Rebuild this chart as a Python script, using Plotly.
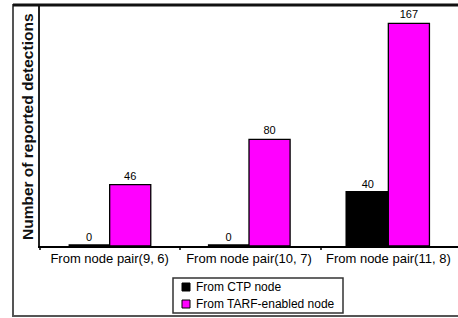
import plotly.graph_objects as go

categories = ["From node pair(9, 6)", "From node pair(10, 7)", "From node pair(11, 8)"]
ctp_values = [0, 0, 40]
tarf_values = [46, 80, 167]
series_names = ["From CTP node", "From TARF-enabled node"]
series_colors = ["black", "#ff00ff"]
y_title = "Number of reported detections"

fig = go.Figure()
fig.add_trace(go.Bar(
    x=categories, y=ctp_values, name=series_names[0],
    marker=dict(color=series_colors[0], line=dict(color="black", width=3.5)),
    text=[str(v) for v in ctp_values], textposition="outside",
    textfont=dict(family="Arial", size=11, color="black"), cliponaxis=False,
    showlegend=False,
))
fig.add_trace(go.Bar(
    x=categories, y=tarf_values, name=series_names[1],
    marker=dict(color=series_colors[1], line=dict(color="black", width=1.3)),
    text=[str(v) for v in tarf_values], textposition="outside",
    textfont=dict(family="Arial", size=11, color="black"), cliponaxis=False,
    showlegend=False,
))

W, H = 458, 318
L, R, T, B = 40, 0, 6, 72
pw = W - L - R
ph = H - T - B

def px(x):
    return (x - L) / pw

def py(y):
    return (H - B - y) / ph

shapes = [
    # outer frame
    dict(type="rect", xref="paper", yref="paper",
         x0=px(13), x1=px(470), y0=py(316), y1=py(5),
         line=dict(color="#555", width=2), layer="above"),
    # thick top line
    dict(type="line", xref="paper", yref="paper",
         x0=px(13), x1=px(470), y0=py(5), y1=py(5),
         line=dict(color="#111", width=3), layer="above"),
]
for xb in [40, 180, 321]:
    shapes.append(dict(type="line", xref="paper", yref="paper",
                       x0=px(xb), x1=px(xb), y0=py(246), y1=py(250),
                       line=dict(color="black", width=1.5)))

# custom legend box
shapes.append(dict(type="rect", xref="paper", yref="paper",
                   x0=px(173), x1=px(343), y0=py(313), y1=py(278),
                   line=dict(color="#333", width=1.5), fillcolor="white", layer="above"))
annotations = [
    dict(text="<b>" + y_title + "</b>", xref="paper", yref="paper",
         x=px(27), y=py(127), textangle=-90, showarrow=False,
         font=dict(family="Arial", size=15.5, color="#111"),
         xanchor="center", yanchor="middle"),
]
legend_rows = [287, 304]
for name, color, yc in zip(series_names, series_colors, legend_rows):
    shapes.append(dict(type="rect", xref="paper", yref="paper",
                       x0=px(182), x1=px(190), y0=py(yc + 4), y1=py(yc - 4),
                       fillcolor=color, line=dict(color="black", width=1), layer="above"))
    annotations.append(dict(text=name, xref="paper", yref="paper",
                            x=px(194), y=py(yc), xanchor="left", yanchor="middle",
                            showarrow=False,
                            font=dict(family="Arial", size=12, color="black")))

fig.update_layout(
    width=W, height=H,
    margin=dict(l=L, r=R, t=T, b=B, autoexpand=False),
    paper_bgcolor="white", plot_bgcolor="white",
    barmode="group", bargap=0.41, bargroupgap=0,
    font=dict(family="Arial", size=10, color="black"),
    showlegend=False,
    xaxis=dict(
        showline=True, linecolor="black", linewidth=1.5,
        ticks="", showgrid=False, zeroline=False, automargin=False,
        tickfont=dict(family="Arial", size=13, color="black"),
    ),
    yaxis=dict(
        range=[0, 180], showticklabels=False, ticks="", showgrid=False,
        zeroline=False, showline=True, linecolor="#222", linewidth=2,
        automargin=False,
    ),
    shapes=shapes,
    annotations=annotations,
)

fig.write_html(
    "out.html",
    config={"displayModeBar": False},
    post_script="document.body.style.margin='0';document.body.style.padding='0';",
)
